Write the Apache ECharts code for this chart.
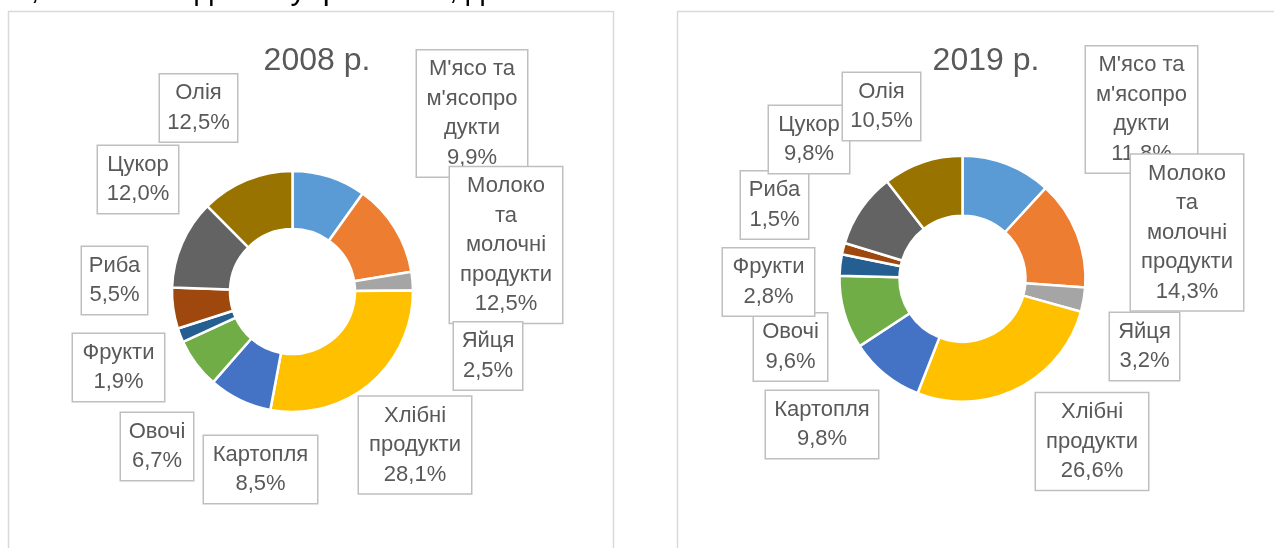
<!DOCTYPE html>
<html>
<head>
<meta charset="utf-8">
<script src="https://cdn.jsdelivr.net/npm/echarts@6/dist/echarts.min.js"></script>
<style>
  html, body { margin: 0; padding: 0; background: #fff; }
  #chart { width: 1274px; height: 548px; }
</style>
</head>
<body>
<div id="chart"></div>
<script>
// ---- data ----
var categories = [
  "М'ясо та м'ясопродукти",
  "Молоко та молочні продукти",
  "Яйця",
  "Хлібні продукти",
  "Картопля",
  "Овочі",
  "Фрукти",
  "Риба",
  "Цукор",
  "Олія"
];
// wrapped label text as shown on the picture
var labelNames = [
  "М'ясо та\nм'ясопро\nдукти",
  "Молоко\nта\nмолочні\nпродукти",
  "Яйця",
  "Хлібні\nпродукти",
  "Картопля",
  "Овочі",
  "Фрукти",
  "Риба",
  "Цукор",
  "Олія"
];
var values2008 = [9.9, 12.5, 2.5, 28.1, 8.5, 6.7, 1.9, 5.5, 12.0, 12.5];
var values2019 = [11.8, 14.3, 3.2, 26.6, 9.8, 9.6, 2.8, 1.5, 9.8, 10.5];
var titles = ["2008 р.", "2019 р."];
var headText = "их, повних моделей управління, десятки";

// ---- layout / style (not data) ----
var colors = ['#5B9BD5', '#ED7D31', '#A5A5A5', '#FFC000', '#4472C4',
              '#70AD47', '#255E91', '#9E480E', '#636363', '#997300'];
var labelPos2008 = [[472, 113.5], [506, 245], [488, 356], [415, 445], [260.5, 469.5],
                    [157, 446.5], [118.5, 367.5], [114.5, 280.5], [138, 179.5], [198.5, 108]];
var labelW2008 = [110, 112, 68, 112, 113, 72, 91, 65, 80, 77];
var labelPos2019 = [[1141.5, 109.5], [1187, 232.5], [1144.5, 346.5], [1092, 441.5], [822, 424.5],
                    [790.5, 347], [768.5, 282], [774.5, 205], [809, 139.5], [881.5, 106.5]];
var labelW2019 = [111, 112, 69, 112, 112, 73, 91, 67, 80, 77];

var FONT = '"Liberation Sans", Arial, sans-serif';

function fmt(v) { return v.toFixed(1).replace('.', ',') + '%'; }

function buildData(values, widths) {
  return values.map(function (v, i) {
    return {
      name: categories[i],
      value: v,
      itemStyle: { color: colors[i] },
      label: { width: widths[i] }
    };
  });
}

function pieSeries(values, widths, positions, center, radius) {
  return {
    type: 'pie',
    center: center,
    radius: radius,
    startAngle: 90,
    clockwise: true,
    avoidLabelOverlap: false,
    silent: true,
    itemStyle: { borderColor: '#ffffff', borderWidth: 2.5 },
    label: {
      show: true,
      position: 'inside',
      formatter: function (p) { return labelNames[p.dataIndex] + '\n' + fmt(p.value); },
      color: '#595959',
      fontFamily: FONT,
      fontSize: 22,
      lineHeight: 29.5,
      align: 'center',
      backgroundColor: '#ffffff',
      borderColor: '#BFBFBF',
      borderWidth: 1.5,
      padding: [4, 0, 4, 0],
      overflow: 'none'
    },
    labelLine: { show: false },
    labelLayout: function (p) {
      var pos = positions[p.dataIndex];
      return { x: pos[0], y: pos[1], align: 'center', verticalAlign: 'middle' };
    },
    data: buildData(values, widths)
  };
}

var chart = echarts.init(document.getElementById('chart'), null, { renderer: 'canvas' });
chart.setOption({
  backgroundColor: '#ffffff',
  animation: false,
  title: [
    { text: titles[0], left: 312, top: 56, textAlign: 'center', textVerticalAlign: 'middle',
      textStyle: { fontFamily: FONT, fontSize: 32, fontWeight: 'normal', color: '#595959' } },
    { text: titles[1], left: 981, top: 56, textAlign: 'center', textVerticalAlign: 'middle',
      textStyle: { fontFamily: FONT, fontSize: 32, fontWeight: 'normal', color: '#595959' } }
  ],
  graphic: [
    { type: 'rect', z: -10, silent: true,
      shape: { x: 8.5, y: 11.5, width: 605, height: 560 },
      style: { fill: '#ffffff', stroke: '#D9D9D9', lineWidth: 1.5 } },
    { type: 'rect', z: -10, silent: true,
      shape: { x: 677.5, y: 11.5, width: 620, height: 560 },
      style: { fill: '#ffffff', stroke: '#D9D9D9', lineWidth: 1.5 } },
    { type: 'text', z: 10, silent: true, x: -2, y: -10,
      style: { text: headText, font: '31px ' + FONT, fill: '#000000', verticalAlign: 'middle' } }
  ],
  series: [
    pieSeries(values2008, labelW2008, labelPos2008, [292.5, 291.5], [62.5, 120.5]),
    pieSeries(values2019, labelW2019, labelPos2019, [962.5, 278.7], [63, 123])
  ]
});
</script>
</body>
</html>
